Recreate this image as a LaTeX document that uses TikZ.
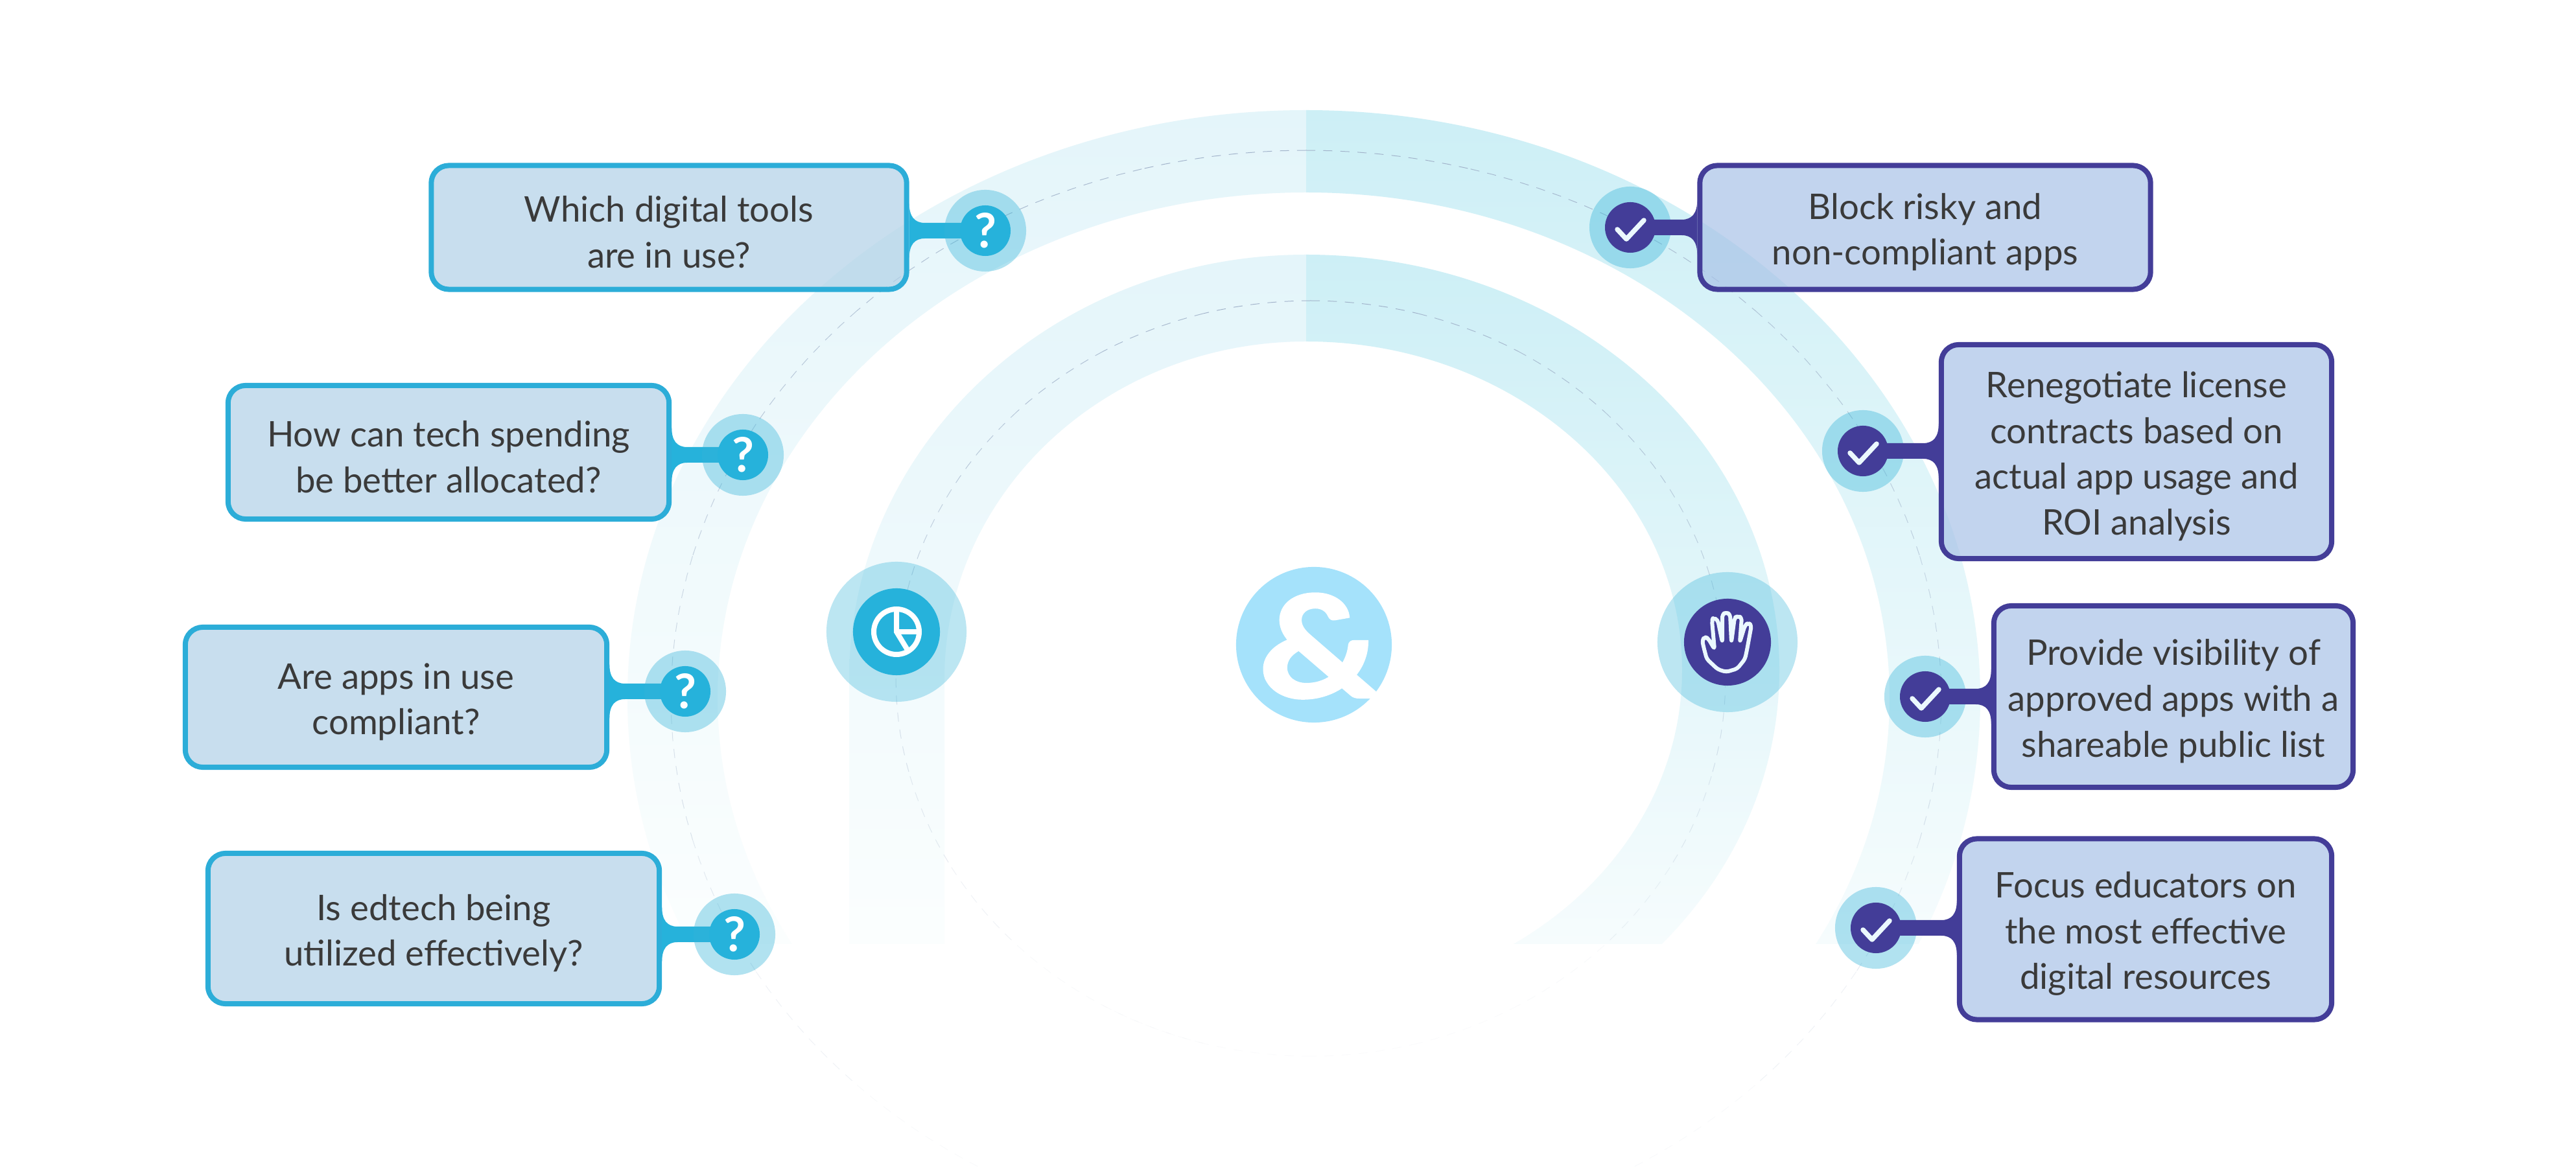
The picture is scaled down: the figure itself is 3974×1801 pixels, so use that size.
\documentclass[tikz,border=0pt]{standalone}
\usepackage{fontspec}
\setmainfont{Lato}
\newfontfamily\ampfont[BoldFeatures={FakeBold=2,FakeStretch=1.2}]{Lato}
\usetikzlibrary{calc,positioning}
\definecolor{askblue}{HTML}{26B2DB}
\definecolor{askline}{HTML}{2CADD8}
\definecolor{actpurple}{HTML}{433D98}
\definecolor{askfill}{RGB}{177,209,231}
\definecolor{actfill}{RGB}{169,194,231}
\definecolor{haloblue}{RGB}{52,180,217}
\definecolor{inktext}{HTML}{3A3A3A}
\definecolor{dashgray}{HTML}{9FB0C8}
\definecolor{ampblue}{HTML}{A5E2FB}
\definecolor{lefttop}{HTML}{E4F5FA}
\definecolor{leftmid}{HTML}{ECF8FB}
\definecolor{leftlow}{HTML}{FBFEFE}
\definecolor{righttop}{HTML}{CDEFF6}
\definecolor{rightmid}{HTML}{DEF4F9}
\definecolor{rightlow}{HTML}{F6FCFD}
\tikzset{
  askbox/.style={draw=askline, fill=askfill, fill opacity=.7, text opacity=1, line width=.08cm, rounded corners=.27cm, align=center, inner sep=0pt, text=inktext, font=\fontsize{15.5}{20.1}\selectfont},
  actbox/.style={askbox, draw=actpurple, fill=actfill},
  halo/.style={circle, fill=haloblue, fill opacity=.38, inner sep=0pt, minimum size=#1},
  disc/.style={circle, fill=#1, inner sep=0pt, minimum size=.78cm, text=white, font=\fontsize{21}{21}\selectfont\bfseries},
  iconline/.style={draw=white, line width=.08cm},
  checkline/.style={draw=white!92!cyan, line width=.075cm, line cap=round, line join=round},
  ring/.style={draw=dashgray, line width=.01cm, dash pattern=on 4pt off 3.5pt},
  leftshade/.style={top color=lefttop, middle color=leftmid, bottom color=leftlow},
  rightshade/.style={top color=righttop, middle color=rightmid, bottom color=rightlow}
}
% taller first line, sets the text a little low in its box
\newcommand{\tallline}{\rule{0pt}{15.5pt}}
% stem between a box and its disc: colour, box, disc, anchor, side
\newcommand{\stemlink}[5]{
  \fill[#1] ($(#2.#4 |- #3)+(0,-42)$) .. controls ($(#2.#4 |- #3)+(0,-22)$) and ($(#2.#4 |- #3)+(#5*8,-12)$) .. ($(#2.#4 |- #3)+(#5*24,-12)$)
    -- ($(#3)+(0,-12)$) -- ($(#3)+(0,12)$) -- ($(#2.#4 |- #3)+(#5*24,12)$)
    .. controls ($(#2.#4 |- #3)+(#5*8,12)$) and ($(#2.#4 |- #3)+(0,22)$) .. ($(#2.#4 |- #3)+(0,42)$) -- cycle;
}
\begin{document}
\begin{tikzpicture}[x=0.01cm,y=-0.01cm]
  \useasboundingbox (0,0) rectangle (3974,1801);
  \fill[white] (0,0) rectangle (3974,1801);

  % outer band
  \begin{scope}[even odd rule]
    \clip (0,0) rectangle (2015,1457);
    \clip (2015,1077) ellipse (1047 and 907) (2015,1077) ellipse (908 and 780);
    \shade[leftshade] (900,170) rectangle (2015,1457);
  \end{scope}
  \begin{scope}[even odd rule]
    \clip (2015,0) rectangle (3974,1457);
    \clip (2015,1077) ellipse (1040 and 907) (2015,1077) ellipse (900 and 780);
    \shade[rightshade] (2015,170) rectangle (3100,1457);
  \end{scope}

  % inner band
  \shade[leftshade]
    (2015,393) .. controls (1626,393) and (1310,686) .. (1310,1047) -- (1310,1457) -- (1457,1457) -- (1457,1047)
    .. controls (1457,760) and (1707,527) .. (2015,527) -- cycle;
  \begin{scope}[even odd rule]
    \clip (2015,0) rectangle (3974,1457);
    \clip (2015,1034) ellipse (730 and 641) (2015,1034) ellipse (580 and 507);
    \shade[rightshade] (2015,393) rectangle (2800,1457);
  \end{scope}

  % dashed rings
  \foreach \a [evaluate=\a as \op using {max(0.04,0.95-(\a+90)*0.0066)}] in {-90,-75,...,60} {
    \draw[ring, draw opacity=\op] plot[domain=\a:\a+15, samples=8, variable=\t] ({2015+980*cos(\t)},{1077+845*sin(\t)});
    \draw[ring, draw opacity=\op] plot[domain=180-\a:165-\a, samples=8, variable=\t] ({2015+980*cos(\t)},{1077+845*sin(\t)});
    \draw[ring, draw opacity=\op] plot[domain=\a:\a+15, samples=8, variable=\t] ({2022+640*cos(\t)},{1047+583*sin(\t)});
    \draw[ring, draw opacity=\op] plot[domain=180-\a:165-\a, samples=8, variable=\t] ({2022+640*cos(\t)},{1047+583*sin(\t)});
  }
  \foreach \a in {75,90,105} {
    \draw[ring, draw opacity=.04] plot[domain=\a:\a+15, samples=8, variable=\t] ({2022+640*cos(\t)},{1047+583*sin(\t)});
  }

  % question boxes
  \node[askbox, minimum width=7.33cm, minimum height=1.91cm] (tools) at (1032,351) {\tallline Which digital tools\\are in use?};
  \node[askbox, minimum width=6.80cm, minimum height=2.06cm] (spend) at (692,698) {\tallline How can tech spending\\be better allocated?};
  \node[askbox, minimum width=6.50cm, minimum height=2.16cm] (comply) at (611,1076) {\tallline Are apps in use\\compliant?};
  \node[askbox, minimum width=6.96cm, minimum height=2.32cm] (effect) at (669,1433) {\tallline Is edtech being\\utilized effectively?};

  % action boxes
  \node[actbox, minimum width=6.95cm, minimum height=1.91cm] (block) at (2970,351) {\tallline Block risky and\\non-compliant apps};
  \node[actbox, minimum width=6.02cm, minimum height=3.30cm] (renew) at (3296,697) {\tallline Renegotiate license\\contracts based on\\actual app usage and\\ROI analysis};
  \node[actbox, minimum width=5.54cm, minimum height=2.80cm] (list) at (3353,1075) {\tallline Provide visibility of\\approved apps with a\\shareable public list};
  \node[actbox, minimum width=5.74cm, minimum height=2.79cm] (focus) at (3310,1434) {\tallline Focus educators on\\the most effective\\digital resources};

  % question discs
  \coordinate (q1) at (1520,356); \coordinate (q2) at (1146,702);
  \coordinate (q3) at (1057,1067); \coordinate (q4) at (1133,1442);
  \stemlink{askblue}{tools}{q1}{east}{1}
  \stemlink{askblue}{spend}{q2}{east}{1}
  \stemlink{askblue}{comply}{q3}{east}{1}
  \stemlink{askblue}{effect}{q4}{east}{1}
  \foreach \q in {q1,q2,q3,q4} {
    \node[halo=1.26cm] at (\q) {};
    \node[disc=askblue] at (\q) {?};
  }

  % check discs
  \coordinate (c1) at (2515,351); \coordinate (c2) at (2874,696);
  \coordinate (c3) at (2970,1075); \coordinate (c4) at (2894,1432);
  \foreach \c in {c1,c2,c3,c4} { \node[halo=1.26cm] at (\c) {}; }
  \stemlink{actpurple}{block}{c1}{west}{-1}
  \stemlink{actpurple}{renew}{c2}{west}{-1}
  \stemlink{actpurple}{list}{c3}{west}{-1}
  \stemlink{actpurple}{focus}{c4}{west}{-1}
  \foreach \c in {c1,c2,c3,c4} {
    \node[disc=actpurple] at (\c) {};
    \draw[checkline] ($(\c)+(-20,3)$) -- ($(\c)+(-6,18)$) -- ($(\c)+(21,-11)$);
  }

  % big icons
  \node[halo=2.16cm, fill opacity=.33] at (1383,975) {};
  \node[disc=askblue, minimum size=1.34cm] (pie) at (1383,975) {};
  \draw[iconline] (pie.center) circle (35);
  \draw[iconline] ($(pie.center)+(0,-35)$) -- (pie.center) -- ($(pie.center)+(17,28)$);
  \draw[iconline] (pie.center) -- ($(pie.center)+(35,0)$);

  \node[halo=2.16cm, fill opacity=.33] at (2665,991) {};
  \node[disc=actpurple, minimum size=1.34cm] (palm) at (2665,991) {};
  \draw[draw=white!92!cyan, line width=.06cm, rounded corners=1.2pt, line join=round, shift={(palm.center)}]
    (-20,11) -- (-30,-6) -- (-35,-8) -- (-39,-3) -- (-37,7) -- (-32,26) -- (-15,42) -- (-2,46) -- (15,41) -- (27,26) -- (30,12)
    -- (37,-26) -- (32,-30) -- (27,-26) -- (19,0) -- (22,-38) -- (16,-40) -- (11,-38) -- (6,0) -- (4,-43) -- (-2,-46) -- (-8,-43) -- (-8,0)
    -- (-15,-34) -- (-22,-38) -- (-24,-33) -- cycle;

  % centre
  \node[circle, fill=ampblue, minimum size=2.4cm, inner sep=0pt, text=white, font=\ampfont\bfseries\fontsize{62}{62}\selectfont] (amp) at (2027,995) {\raisebox{-23pt}[0pt][0pt]{\makebox[0pt]{\hspace*{5pt}\&}}};
\end{tikzpicture}
\end{document}
